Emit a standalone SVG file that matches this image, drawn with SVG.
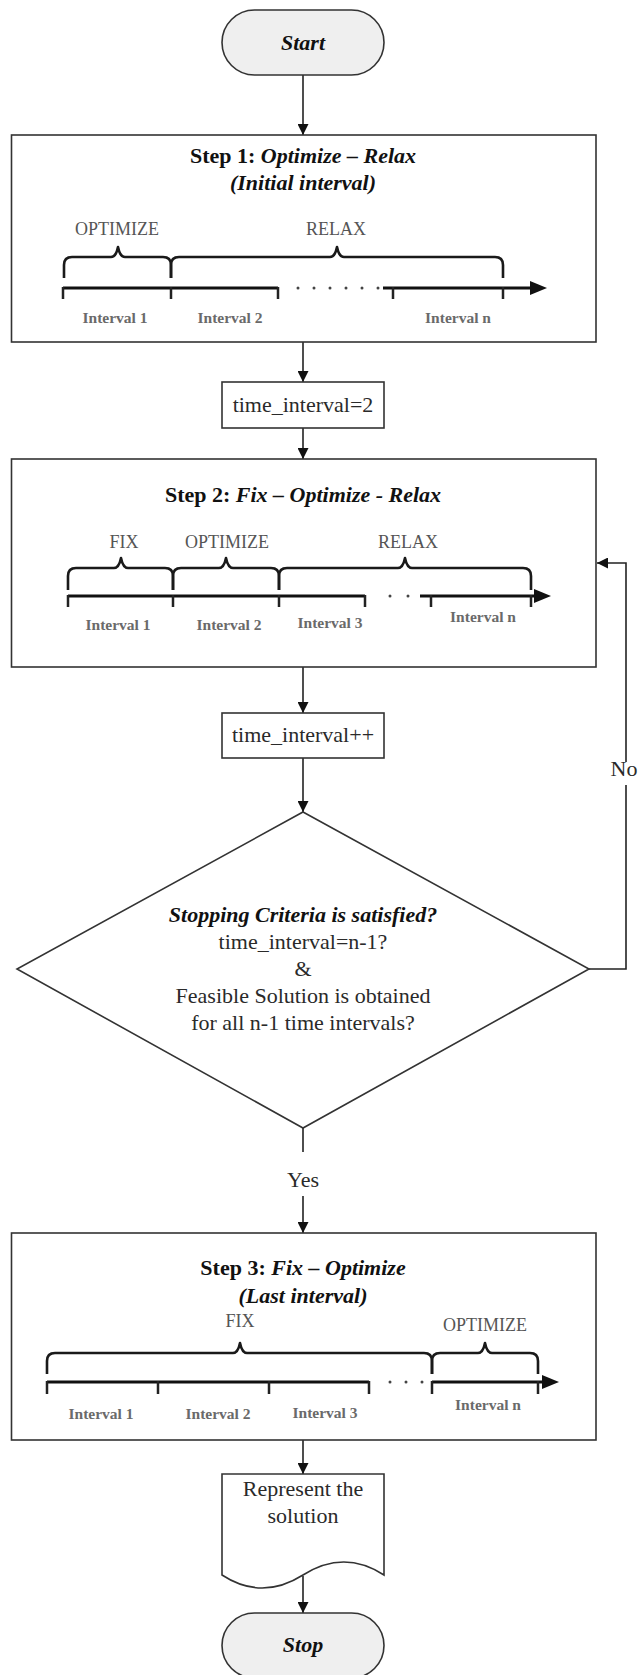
<svg xmlns="http://www.w3.org/2000/svg" width="638" height="1675" viewBox="0 0 638 1675" font-family="'Liberation Serif', 'Times New Roman', serif">
<defs>
<marker id="ah" markerUnits="userSpaceOnUse" markerWidth="11" markerHeight="11" refX="11" refY="5.5" orient="auto">
<path d="M0,0 L11,5.5 L0,11 Z" fill="#111"/>
</marker>
<style>
.box{fill:#fff;stroke:#333;stroke-width:1.6}
.term{fill:#efefef;stroke:#333;stroke-width:1.6}
.conn{fill:none;stroke:#222;stroke-width:1.6}
.brace{fill:none;stroke:#1a1a1a;stroke-width:2.6;stroke-linejoin:round}
.axis{stroke:#111;stroke-width:3}
.tick{stroke:#222;stroke-width:2.5}
.dot{fill:#444}
.head{fill:#111}
.t,.ti,.lab,.int{font-family:"Liberation Serif","Times New Roman",serif;text-anchor:middle}
.t{font-size:22px;fill:#2a2a2a}
.ti{font-size:22px;font-weight:bold;fill:#111}
.bi{font-style:italic}
.lab{font-size:18px;fill:#555}
.int{font-size:15.5px;font-weight:bold;fill:#6a6a6a}
</style>
</defs>
<rect width="638" height="1675" fill="#fff"/>

<g id="connectors">
<path class="conn" d="M303,75 V135" marker-end="url(#ah)"/>
<path class="conn" d="M303,342 V382" marker-end="url(#ah)"/>
<path class="conn" d="M303,428 V459" marker-end="url(#ah)"/>
<path class="conn" d="M303,667 V713" marker-end="url(#ah)"/>
<path class="conn" d="M303,758 V812" marker-end="url(#ah)"/>
<path class="conn" d="M303,1128 V1152 M303,1196 V1233" marker-end="url(#ah)"/>
<path class="conn" d="M589,969 H626 V785 M626,762 V563 H597" marker-end="url(#ah)"/>
<path class="conn" d="M303,1440 V1474" marker-end="url(#ah)"/>
<path class="conn" d="M303,1576 V1613" marker-end="url(#ah)"/>
<text class="t" x="624" y="776">No</text>
<text class="t" x="303" y="1187">Yes</text>
</g>

<g id="start">
<rect class="term" x="222" y="10" width="162" height="65" rx="32.5"/>
<text class="ti bi" x="303" y="50">Start</text>
</g>

<g id="step1">
<rect class="box" x="11.5" y="135" width="584.5" height="207"/>
<text class="ti" x="303" y="163">Step 1: <tspan class="bi">Optimize – Relax</tspan></text>
<text class="ti bi" x="303" y="190">(Initial interval)</text>
<text class="lab" x="117" y="235">OPTIMIZE</text>
<text class="lab" x="336" y="235">RELAX</text>
<path class="brace" d="M64,278 V265 Q64,257 72,257 H111 Q116,257 118,247 Q120,257 125,257 H163 Q171,257 171,265 V278"/>
<path class="brace" d="M171,278 V265 Q171,257 179,257 H330 Q335,257 337,247 Q339,257 344,257 H495 Q503,257 503,265 V278"/>
<line class="axis" x1="63" y1="288" x2="278" y2="288"/>
<line class="axis" x1="383" y1="288" x2="533" y2="288"/>
<polygon class="head" points="530,281 547,288 530,295"/>
<circle class="dot" cx="298" cy="288" r="1.5"/>
<circle class="dot" cx="314" cy="288" r="1.5"/>
<circle class="dot" cx="330" cy="288" r="1.5"/>
<circle class="dot" cx="346" cy="288" r="1.5"/>
<circle class="dot" cx="362" cy="288" r="1.5"/>
<circle class="dot" cx="378" cy="288" r="1.5"/>
<path class="tick" d="M63,287 V299 M171,287 V299 M278,287 V299 M393,287 V299 M503,287 V299"/>
<text class="int" x="115" y="323">Interval 1</text>
<text class="int" x="230" y="323">Interval 2</text>
<text class="int" x="458" y="323">Interval n</text>
</g>

<g id="init">
<rect class="box" x="222" y="382" width="162" height="46"/>
<text class="t" x="303" y="412">time_interval=2</text>
</g>

<g id="step2">
<rect class="box" x="11.5" y="459" width="584.5" height="208"/>
<text class="ti" x="303" y="502">Step 2: <tspan class="bi">Fix – Optimize - Relax</tspan></text>
<text class="lab" x="124" y="548">FIX</text>
<text class="lab" x="227" y="548">OPTIMIZE</text>
<text class="lab" x="408" y="548">RELAX</text>
<path class="brace" d="M68,590 V576 Q68,568 76,568 H114 Q119,568 121,558 Q123,568 128,568 H165 Q173,568 173,576 V590"/>
<path class="brace" d="M173,590 V576 Q173,568 181,568 H219 Q224,568 226,558 Q228,568 233,568 H271 Q279,568 279,576 V590"/>
<path class="brace" d="M279,590 V576 Q279,568 287,568 H398 Q403,568 405,558 Q407,568 412,568 H523 Q531,568 531,576 V590"/>
<line class="axis" x1="68" y1="596" x2="365" y2="596"/>
<line class="axis" x1="420" y1="596" x2="537" y2="596"/>
<polygon class="head" points="534,589 551,596 534,603"/>
<circle class="dot" cx="390" cy="596" r="1.5"/>
<circle class="dot" cx="408" cy="596" r="1.5"/>
<path class="tick" d="M68,595 V607 M173,595 V607 M279,595 V607 M365,595 V607 M431,595 V607 M531,595 V607"/>
<text class="int" x="118" y="630">Interval 1</text>
<text class="int" x="229" y="630">Interval 2</text>
<text class="int" x="330" y="628">Interval 3</text>
<text class="int" x="483" y="622">Interval n</text>
</g>

<g id="increment">
<rect class="box" x="222" y="713" width="162" height="45"/>
<text class="t" x="303" y="742">time_interval++</text>
</g>

<g id="decision">
<polygon class="box" points="303,812 589,969 303,1128 17,969"/>
<text class="ti bi" x="303" y="922">Stopping Criteria is satisfied?</text>
<text class="t" x="303" y="949">time_interval=n-1?</text>
<text class="t" x="303" y="976">&amp;</text>
<text class="t" x="303" y="1003">Feasible Solution is obtained</text>
<text class="t" x="303" y="1030">for all n-1 time intervals?</text>
</g>

<g id="step3">
<rect class="box" x="11.5" y="1233" width="584.5" height="207"/>
<text class="ti" x="303" y="1275">Step 3: <tspan class="bi">Fix – Optimize</tspan></text>
<text class="ti bi" x="303" y="1303">(Last interval)</text>
<text class="lab" x="240" y="1327">FIX</text>
<text class="lab" x="485" y="1331">OPTIMIZE</text>
<path class="brace" d="M47,1374 V1361 Q47,1353 55,1353 H233 Q238,1353 240,1343 Q242,1353 247,1353 H424 Q432,1353 432,1361 V1374"/>
<path class="brace" d="M432,1374 V1361 Q432,1353 440,1353 H478 Q483,1353 485,1343 Q487,1353 492,1353 H530 Q538,1353 538,1361 V1374"/>
<line class="axis" x1="47" y1="1382" x2="369" y2="1382"/>
<line class="axis" x1="432" y1="1382" x2="545" y2="1382"/>
<polygon class="head" points="542,1375 559,1382 542,1389"/>
<circle class="dot" cx="390" cy="1382" r="1.5"/>
<circle class="dot" cx="406" cy="1382" r="1.5"/>
<circle class="dot" cx="422" cy="1382" r="1.5"/>
<path class="tick" d="M47,1381 V1394 M158,1381 V1394 M269,1381 V1394 M369,1381 V1394 M432,1381 V1394 M538,1381 V1394"/>
<text class="int" x="101" y="1419">Interval 1</text>
<text class="int" x="218" y="1419">Interval 2</text>
<text class="int" x="325" y="1418">Interval 3</text>
<text class="int" x="488" y="1410">Interval n</text>
</g>

<g id="output">
<path class="box" d="M222,1474 H384 V1575 Q344,1549 303,1575 Q262,1601 222,1575 Z"/>
<text class="t" x="303" y="1496">Represent the</text>
<text class="t" x="303" y="1523">solution</text>
</g>

<g id="stop">
<rect class="term" x="222" y="1613" width="162" height="65" rx="32.5"/>
<text class="ti bi" x="303" y="1652">Stop</text>
</g>
</svg>
